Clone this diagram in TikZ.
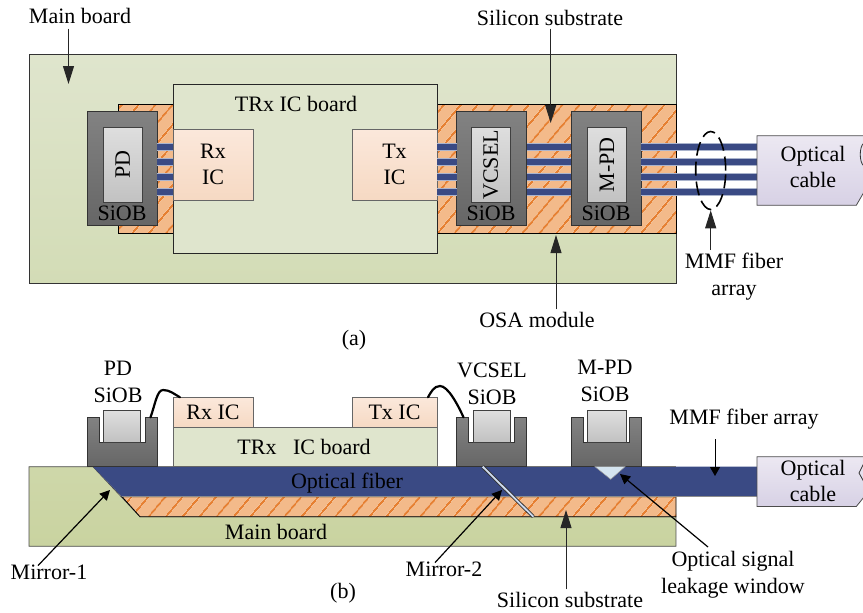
\documentclass[tikz,border=0pt]{standalone}
\usepackage{xcolor}
\usepackage{fontspec}
\setmainfont{Liberation Serif}
\usepackage{tikz}
\usetikzlibrary{arrows.meta, patterns.meta, shapes.geometric, positioning}
\definecolor{boardtop}{RGB}{223,229,205}
\definecolor{boardlow}{RGB}{211,220,182}
\definecolor{boardcut}{RGB}{201,211,160}
\definecolor{icTop}{RGB}{251,232,219}
\definecolor{icLow}{RGB}{246,217,195}
\definecolor{substrate}{RGB}{243,186,138}
\definecolor{hatch}{RGB}{230,128,50}
\definecolor{fiber}{RGB}{58,74,132}
\definecolor{fiberedge}{RGB}{170,180,205}
\definecolor{siobTop}{RGB}{130,130,130}
\definecolor{siobLow}{RGB}{102,102,102}
\definecolor{cableTop}{RGB}{236,232,242}
\definecolor{cableLow}{RGB}{215,209,229}
\definecolor{leak}{RGB}{212,228,240}
\definecolor{mirror}{RGB}{205,218,238}
\tikzset{
    boardbox/.style={draw=black!80, line width=0.8pt, top color=boardtop, bottom color=boardlow, inner sep=0pt, outer sep=0pt, anchor=north west},
    trxbox/.style={draw=black!85, line width=0.8pt, fill=boardtop, inner sep=0pt, outer sep=0pt, anchor=north west},
    icbox/.style={draw=black!60, line width=0.8pt, top color=icTop, bottom color=icLow, inner sep=0pt, outer sep=0pt, anchor=north west, align=center},
    subbox/.style={draw=black, line width=0.8pt, preaction={fill=substrate}, pattern={Lines[angle=50,distance=13pt,line width=2pt]}, pattern color=hatch},
    siobbox/.style={draw=black!80, line width=0.8pt, top color=siobTop, bottom color=siobLow, inner sep=0pt, outer sep=0pt, anchor=north west},
    chipbox/.style={draw=black!75, line width=0.8pt, top color=black!13, bottom color=black!24, inner sep=0pt, outer sep=0pt, anchor=north west},
    fiberline/.style={fiber, line width=6.5pt, preaction={draw=fiberedge, line width=8pt}},
    cablebox/.style={draw=black!70, line width=0.8pt, top color=cableTop, bottom color=cableLow},
    callout/.style={draw=black!85, line width=1pt, -{Triangle[length=18pt,width=11pt]}},
    calloutb/.style={draw=black, line width=1.2pt, -{Triangle[length=10pt,width=10pt]}},
    wire/.style={draw=black, line width=2.2pt, line cap=round},
    txt/.style={inner sep=0pt, outer sep=0pt, align=center}
}

\begin{document}
\begin{tikzpicture}[x=1pt, y=-1pt, font=\fontsize{22}{26.5}\selectfont]
    \useasboundingbox (0,0) rectangle (863,613);

    % top view (a)
    \node[boardbox, minimum width=647pt, minimum height=228.5pt] (mainA) at (29,54.5) {};
    \draw[subbox] (118.5,104.5) rectangle (173,233.5);
    \draw[subbox] (437,104.5) rectangle (676,233.5);
    \node[trxbox, minimum width=264pt, minimum height=168.5pt] (trxA) at (173,84.5) {};
    \node[icbox, minimum width=80pt, minimum height=71pt] (rxA) at (173,129) {Rx\\IC};
    \node[icbox, minimum width=85pt, minimum height=71pt] (txA) at (352,129) {Tx\\IC};
    \node[siobbox, minimum width=70pt, minimum height=114.5pt] (pdA) at (87,111) {};
    \node[siobbox, minimum width=70pt, minimum height=114.5pt] (vcselA) at (456.5,111) {};
    \node[siobbox, minimum width=70pt, minimum height=114.5pt] (mpdA) at (571,111) {};
    \node[chipbox, minimum width=38.5pt, minimum height=74.5pt] (pdChip) at (103.5,127.5) {};
    \node[chipbox, minimum width=38.5pt, minimum height=74.5pt] (vcselChip) at (471.5,127.5) {};
    \node[chipbox, minimum width=38.5pt, minimum height=74.5pt] (mpdChip) at (587.7,127.5) {};
    \node[txt, rotate=90] (pdText) at (pdChip.center) {PD};
    \node[txt, rotate=90] (vcselText) at (vcselChip.center) {VCSEL};
    \node[txt, rotate=90] (mpdText) at (mpdChip.center) {M-PD};
    \node[txt] (pdSiobA) at (122,213) {SiOB};
    \node[txt] (vcselSiobA) at (491,213) {SiOB};
    \node[txt] (mpdSiobA) at (606,213) {SiOB};
    \node[txt] (trxTextA) at (296,104) {TRx IC board};

    \foreach \y in {147,162,177,192} {
        \draw[fiberline] (pdA.east |- 0,\y) -- (rxA.west |- 0,\y);
        \draw[fiberline] (txA.east |- 0,\y) -- (vcselA.west |- 0,\y);
        \draw[fiberline] (vcselA.east |- 0,\y) -- (mpdA.west |- 0,\y);
        \draw[fiberline] (mpdA.east |- 0,\y) -- (757,\y);
    }

    \draw[cablebox] (757,135.7) -- (864,135.7) -- (864,192) -- (856.3,205.3) -- (757,205.3) -- cycle;
    \draw[black!80, line width=0.8pt] (864,143) .. controls (859,146) and (859,163) .. (864,166);
    \node[txt] (cableA) at (813,167) {Optical\\cable};
    \node[draw, ellipse, dashed, line width=1.6pt, dash pattern=on 14pt off 6pt, minimum width=30pt, minimum height=78pt, inner sep=0pt] (fiberRing) at (710.7,170.5) {};

    \node[txt] (mainLabel) at (80,16) {Main board};
    \coordinate (mainTip) at (68.5,84);
    \draw[callout] (mainLabel.south -| mainTip) ++(0,5) -- (mainTip);
    \node[txt] (substrateLabel) at (550,18) {Silicon substrate};
    \coordinate (substrateTip) at (550.7,123);
    \draw[callout] (substrateLabel.south -| substrateTip) ++(0,3) -- (substrateTip);
    \node[txt] (osaLabel) at (537,320) {OSA module};
    \coordinate (osaTip) at (556,235);
    \draw[callout] (osaLabel.north -| osaTip) ++(0,-3) -- (osaTip);
    \node[txt] (mmfLabel) at (734,276.5) {MMF fiber\\array};
    \draw[callout] (mmfLabel.north -| fiberRing.south) ++(0,-3) -- (fiberRing.south);
    \node[txt] (captionA) at (354,340) {(a)};

    % side view (b)
    \draw[draw=black!70, line width=0.8pt, top color=boardcut!90!white, bottom color=boardcut] (29,466.7) -- (93,466.7) -- (140,516.7) -- (676,516.7) -- (676,546.3) -- (29,546.3) -- cycle;
    \draw[subbox] (122,496.7) -- (676,496.7) -- (676,516.7) -- (140,516.7) -- cycle;
    \fill[fiber] (93,466.7) -- (757,466.7) -- (757,496.7) -- (122,496.7) -- cycle;
    \draw[black!55, line width=0.8pt] (93,466.7) -- (676,466.7);
    \draw[black!45, line width=0.8pt] (122,496.7) -- (757,496.7);

    \node[trxbox, draw=black!60, minimum width=264pt, minimum height=39.4pt] (trxB) at (173,427.3) {};
    \node[icbox, minimum width=80pt, minimum height=30pt] (rxB) at (173,397.3) {Rx IC};
    \node[icbox, minimum width=85pt, minimum height=30pt] (txB) at (352,397.3) {Tx IC};
    \node[txt] (trxTextB) at (304,447) {TRx\hspace{0.5em} IC board};

    \foreach \name/\x/\chipx/\chipw in {pd/87/16.5/36.5, vcsel/456.5/17/37, mpd/571/16.7/38.5} {
        \draw[draw=black!80, line width=0.8pt, top color=siobTop, bottom color=siobLow]
            (\x,417.3) -- ++(12,0) -- ++(0,24.7) -- ++(46,0) -- ++(0,-24.7) -- ++(12,0)
            -- ++(0,49.4) -- ++(-70,0) -- cycle;
        \node[chipbox, minimum width=\chipw pt, minimum height=31.3pt] (\name ChipB) at (\x+\chipx,410.7) {};
        \coordinate (\name Lip) at (\x+63.5,417.3);
        \coordinate (\name LipLeft) at (\x+7,417.3);
    }

    \coordinate (rxPad) at ([xshift=7pt]rxB.north west);
    \coordinate (txPad) at ([xshift=-9pt]txB.north east);
    \draw[wire] (pdLip) .. controls (155,405) and (157,390) .. (163,390) .. controls (170,390) and (174,394) .. (rxPad);
    \draw[wire] (vcselLipLeft) .. controls (458,405) and (448,386) .. (440,386) .. controls (434,386) and (431,392) .. (txPad);

    \draw[draw=black!40, line width=0.5pt, fill=leak] (595,466.7) -- (625,466.7) -- (610.7,479.3) -- cycle;
    \draw[black!80, line width=3.6pt] (482.7,466.7) -- (533.3,516.7);
    \draw[mirror, line width=1.8pt] (482.7,466.7) -- (533.3,516.7);

    \draw[cablebox] (757,456.7) -- (864,456.7) -- (864,497) -- (856.3,506.5) -- (757,506.5) -- cycle;
    \draw[black!80, line width=0.8pt] (864,463) -- (859,473) -- (864,482);
    \node[txt] (cableB) at (813,481) {Optical\\cable};

    \node[txt] (pdLabel) at (118,382) {PD\\SiOB};
    \node[txt] (vcselLabel) at (492,384) {VCSEL\\SiOB};
    \node[txt] (mpdLabel) at (605,381) {M-PD\\SiOB};
    \node[txt] (fiberText) at (347,483) {Optical fiber};
    \node[txt] (mainText) at (276,532) {Main board};

    \node[txt] (mirrorOne) at (49,572) {Mirror-1};
    \coordinate (mirrorOneTip) at (110,490);
    \draw[calloutb] (mirrorOne.north) ++(-11,1) -- (mirrorOneTip);
    \node[txt] (mirrorTwo) at (444,569) {Mirror-2};
    \coordinate (mirrorTwoTip) at (502,490);
    \draw[calloutb] (mirrorTwo.north) ++(-9,1) -- (mirrorTwoTip);
    \node[txt] (mmfLabelB) at (744,419) {MMF fiber array};
    \coordinate (mmfTip) at (715,476);
    \draw[draw=black, line width=1pt, -{Triangle[length=9pt,width=10pt]}] (mmfLabelB.south -| mmfTip) ++(0,10) -- (mmfTip);
    \node[txt] (substrateB) at (570,600) {Silicon substrate};
    \coordinate (substrateBTip) at (566,510);
    \draw[callout] (substrateB.north -| substrateBTip) ++(0,-3) -- (substrateBTip);
    \node[txt] (leakLabel) at (733,574.5) {Optical signal\\leakage window};
    \coordinate (leakTip) at (620,474);
    \draw[calloutb] (708,547) -- (leakTip);
    \node[txt] (captionB) at (343,593) {(b)};
\end{tikzpicture}
\end{document}
